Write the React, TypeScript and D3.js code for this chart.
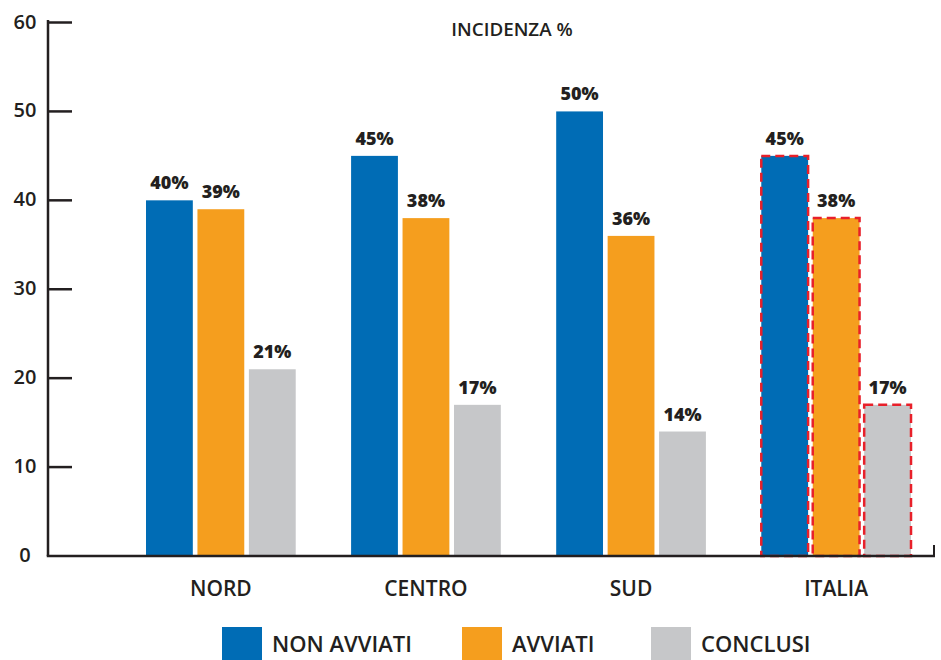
import React from "react";
import * as d3 from "d3";

const categories = ["NORD", "CENTRO", "SUD", "ITALIA"];
const seriesNames = ["NON AVVIATI", "AVVIATI", "CONCLUSI"];
const nonAvviati = [40, 45, 50, 45];
const avviati = [39, 38, 36, 38];
const conclusi = [21, 17, 14, 17];
const yTicks = [0, 10, 20, 30, 40, 50, 60];
const colors = ["#006CB5", "#F59E1E", "#C6C7C9"];
const highlighted = ["ITALIA"];

const W = 941;
const H = 660;
const FONT = "'Open Sans', 'Noto Sans', sans-serif";
const INK = "#231F20";

export default function App() {
  const series = [nonAvviati, avviati, conclusi];
  const y = d3.scaleLinear().domain([0, 60]).range([556, 22.5]);
  const x0 = d3.scaleBand<string>().domain(categories).range([146, 911]).paddingInner(0.27).paddingOuter(0);
  const x1 = d3.scaleBand<number>().domain([0, 1, 2]).range([0, x0.bandwidth()]).paddingInner(0.09);
  const axisX = 48;

  const legendItems = [
    { x: 222, label: seriesNames[0], color: colors[0] },
    { x: 462, label: seriesNames[1], color: colors[1] },
    { x: 651, label: seriesNames[2], color: colors[2] },
  ];

  return (
    <svg width={W} height={H} style={{ position: "absolute", left: 0, top: 0, background: "#fff" }} fontFamily={FONT}>
      <rect width={W} height={H} fill="#fff" />
      {/* title */}
      <text x={512} y={36} textAnchor="middle" fontSize={18.8} fontWeight={600} fill={INK}>INCIDENZA %</text>

      {/* y axis */}
      <line x1={axisX} x2={axisX} y1={20} y2={y(0)} stroke={INK} strokeWidth={2.5} />
      {yTicks.map((t) => (
        <g key={t}>
          {t > 0 && <line x1={axisX} x2={72} y1={y(t)} y2={y(t)} stroke={INK} strokeWidth={2.5} />}
          <text x={25} y={y(t)} dy="0.3em" textAnchor="middle" fontSize={20} fontWeight={600} fill={INK}>{t}</text>
        </g>
      ))}

      {/* bars */}
      {categories.map((c, ci) => (
        <g key={c} transform={`translate(${x0(c)},0)`}>
          {series.map((s, si) => {
            const bx = x1(si)!;
            const bw = x1.bandwidth();
            const top = y(s[ci]);
            return (
              <g key={si}>
                <rect x={bx} y={top} width={bw} height={y(0) - top} fill={colors[si]} />
                {highlighted.includes(c) && (
                  <rect x={bx} y={top} width={bw} height={y(0) - top} fill="none" stroke="#E8202A" strokeWidth={2.5} strokeDasharray="9,5" />
                )}
                <text x={bx + bw / 2} y={top - 11} textAnchor="middle" fontSize={18} fontWeight={800} fill={INK}>{s[ci]}%</text>
              </g>
            );
          })}
          <text x={x0.bandwidth() / 2} y={596} textAnchor="middle" fontSize={21} fontWeight={600} fill={INK}>{c}</text>
        </g>
      ))}

      {/* x axis */}
      <line x1={axisX - 1.25} x2={935} y1={y(0)} y2={y(0)} stroke={INK} strokeWidth={2.5} />
      <line x1={934} x2={934} y1={545} y2={y(0)} stroke={INK} strokeWidth={2} />

      {/* legend */}
      {legendItems.map((l) => (
        <g key={l.label}>
          <rect x={l.x} y={627} width={40} height={40} fill={l.color} />
          <text x={l.x + 50} y={652} fontSize={22} fontWeight={600} fill={INK}>{l.label}</text>
        </g>
      ))}
    </svg>
  );
}
